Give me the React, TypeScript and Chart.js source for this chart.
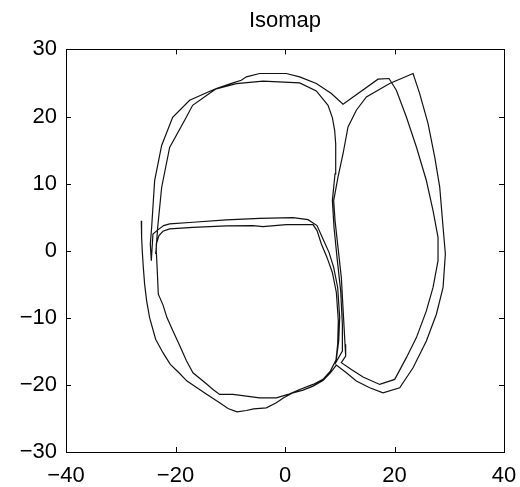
import { useEffect, useRef } from "react";
import { Chart, registerables } from "chart.js";

Chart.register(...registerables);

const TITLE = "Isomap";
const X_TICKS = [-40, -20, 0, 20, 40];
const Y_TICKS = [-30, -20, -10, 0, 10, 20, 30];

// Embedded trajectory, in visiting order.
const pathX = [
  // left start, outer sweep and outer bottom
  -26.25, -26.19, -26.07, -25.88, -25.64, -25.27, -24.73, -23.63, -22.29, -20.95,
  -19.37, -17.9, -16.08, -14.25, -11.94, -10.41, -8.77, -7.06, -5.72, -3.41,
  -1.58, -0.24, 1.46, 3.29, 5.12, 6.94, 8.28, 9.38,
  // outer right loop
  11.21, 13.03, 15.47, 17.9, 20.95, 23.39, 25.82, 27.65, 28.87, 29.29,
  28.87, 28.26, 27.35, 26.13, 24.6, 23.39,
  // back down the middle
  19.12, 14.86, 13.03, 11.51, 10.6, 9.68, 8.89, 9.14, 9.68, 10.29,
  10.66, 10.96, 11.08, 10.29,
  // inner right loop
  12.12, 14.25, 17.3, 20.04, 22.17, 24.0, 25.82, 27.04, 27.95, 27.95,
  27.04, 25.82, 24.0, 22.17, 20.34, 19.0, 16.99, 10.6,
  // outer top arc of the left loop
  8.47, 5.72, 2.68, 0.24, -4.63, -7.06, -7.98, -9.5, -12.55, -14.13,
  -17.42, -20.52, -22.53, -23.81, -24.36, -24.6, -24.42,
  // upper crossing, right side, inner bottom, lower left side
  -24.12, -23.39, -22.17, -21.07, -16.81, -10.72, -4.63, 1.46, 4.2, 5.85,
  6.94, 8.04, 8.89, 9.62, 9.99, 9.81, 9.38, 8.28, 6.94, 5.12,
  2.68, 0.55, -1.58, -4.63, -7.06, -9.5, -11.94, -13.15, -14.37, -16.81,
  -17.98, -19.2, -20.46, -21.56, -22.29, -23.14, -23.33, -23.51, -23.51,
  // lower crossing, right side again
  -23.02, -22.29, -21.07, -16.81, -10.72, -5.85, -4.02, 0.24, 5.12, 5.85,
  6.64, 7.67, 8.65, 9.38, 9.74, 9.62, 9.26,
  // up the middle and around the inner top arc
  10.48, 10.48, 10.17, 9.5, 8.95, 8.65, 9.14, 9.26, 9.07, 8.65,
  7.86, 5.72, 2.68, -4.02, -8.89, -12.55, -13.76, -16.87, -18.33, -21.07,
  -22.53, -23.26, -23.51, -23.63,
];

const pathY = [
  4.48, 1.99, 0.0, -2.49, -4.98, -7.47, -9.97, -13.2, -15.2, -16.94,
  -18.19, -19.43, -20.43, -21.42, -22.67, -23.52, -24.02, -23.82, -23.57, -23.42,
  -22.67, -21.92, -21.18, -20.78, -20.18, -19.33, -18.19, -17.04,
  -18.19, -19.43, -20.43, -21.18, -20.43, -17.44, -13.45, -9.47, -5.48, -0.5,
  3.49, 9.47, 13.95, 18.93, 23.42, 26.41,
  24.91, 22.92, 20.93, 18.44, 14.45, 10.96, 7.47, 4.48, 0.5, -3.99,
  -9.47, -13.95, -15.69, -16.69,
  -17.69, -18.83, -19.93, -19.18, -15.94, -12.95, -8.97, -5.48, -1.49, 1.99,
  5.98, 10.46, 15.45, 19.93, 23.92, 25.66, 25.56, 21.82,
  23.42, 24.91, 25.91, 26.41, 26.41, 25.91, 25.41, 25.01, 24.17, 23.62,
  22.42, 19.88, 15.69, 10.46, 3.44, 1.0, -1.49,
  2.49, 2.99, 3.74, 3.99, 4.24, 4.58, 4.83, 4.93, 4.63, 3.74,
  1.74, -0.25, -2.49, -5.48, -9.97, -13.45, -16.19, -17.94, -19.18, -19.93,
  -20.68, -21.42, -21.92, -21.92, -21.67, -21.42, -21.42, -20.68, -19.83, -18.19,
  -16.44, -14.2, -11.96, -9.97, -8.07, -6.48, -2.99, 0.0, 1.0,
  2.24, 2.89, 3.24, 3.49, 3.69, 3.74, 3.59, 3.89, 3.89, 2.99,
  1.0, -1.0, -3.24, -6.23, -10.46, -13.95, -16.69,
  -14.95, -10.96, -5.98, -1.0, 3.49, 7.47, 11.46, 15.94, 17.94, 19.83,
  21.67, 23.82, 25.01, 25.26, 24.91, 24.12, 23.47, 21.67, 19.43, 15.4,
  9.42, 3.44, 0.5, -0.5,
];

const FONT_FAMILY = "'Liberation Sans', Arial, Helvetica, sans-serif";

const formatTick = (v: number | string) => String(v).replace("-", "\u2212");

// Draws the closed axes box with inward tick marks on all four sides.
const boxWithInwardTicks = {
  id: "boxWithInwardTicks",
  afterDatasetsDraw(chart: any) {
    const { ctx, chartArea: a, scales } = chart;
    const len = 5;
    ctx.save();
    ctx.strokeStyle = "#000";
    ctx.lineWidth = 1;
    ctx.strokeRect(
      Math.round(a.left) + 0.5,
      Math.round(a.top) + 0.5,
      Math.round(a.right - a.left),
      Math.round(a.bottom - a.top)
    );
    ctx.beginPath();
    for (const v of X_TICKS) {
      const px = Math.round(scales.x.getPixelForValue(v)) + 0.5;
      ctx.moveTo(px, a.bottom);
      ctx.lineTo(px, a.bottom - len);
      ctx.moveTo(px, a.top);
      ctx.lineTo(px, a.top + len);
    }
    for (const v of Y_TICKS) {
      const py = Math.round(scales.y.getPixelForValue(v)) + 0.5;
      ctx.moveTo(a.left, py);
      ctx.lineTo(a.left + len, py);
      ctx.moveTo(a.right, py);
      ctx.lineTo(a.right - len, py);
    }
    ctx.stroke();
    ctx.restore();
  },
};

export default function App() {
  const canvasRef = useRef<HTMLCanvasElement | null>(null);

  useEffect(() => {
    const canvas = canvasRef.current;
    if (!canvas) return;
    const points = pathX.map((x, i) => ({ x, y: pathY[i] }));
    const chart = new Chart(canvas, {
      type: "scatter",
      data: {
        datasets: [
          {
            data: points,
            showLine: true,
            borderColor: "#111",
            borderWidth: 1.2,
            pointRadius: 0,
            tension: 0,
            fill: false,
          },
        ],
      },
      options: {
        responsive: false,
        animation: false,
        devicePixelRatio: 1,
        layout: { padding: { left: 0, right: 16, top: 0, bottom: 0 } },
        plugins: {
          legend: { display: false },
          tooltip: { enabled: false },
          title: {
            display: true,
            text: TITLE,
            fullSize: false,
            color: "#000",
            font: { family: FONT_FAMILY, size: 22, weight: "normal" },
            padding: { top: 8, bottom: 15 },
          },
        },
        scales: {
          x: {
            type: "linear",
            min: X_TICKS[0],
            max: X_TICKS[X_TICKS.length - 1],
            grid: { display: false, drawTicks: false },
            border: { display: false },
            afterBuildTicks: (scale: any) => {
              scale.ticks = X_TICKS.map((value) => ({ value }));
            },
            afterFit: (scale: any) => {
              scale.height = 35;
              scale.paddingLeft = 0;
              scale.paddingRight = 0;
            },
            ticks: {
              color: "#000",
              padding: 11,
              maxRotation: 0,
              font: { family: FONT_FAMILY, size: 22 },
              callback: formatTick,
            },
          },
          y: {
            type: "linear",
            min: Y_TICKS[0],
            max: Y_TICKS[Y_TICKS.length - 1],
            grid: { display: false, drawTicks: false },
            border: { display: false },
            afterBuildTicks: (scale: any) => {
              scale.ticks = Y_TICKS.map((value) => ({ value }));
            },
            afterFit: (scale: any) => {
              scale.width = 66;
              scale.paddingTop = 0;
              scale.paddingBottom = 0;
            },
            ticks: {
              color: "#000",
              padding: 9,
              font: { family: FONT_FAMILY, size: 22 },
              callback: formatTick,
            },
          },
        },
      },
      plugins: [boxWithInwardTicks],
    });
    return () => chart.destroy();
  }, []);

  return (
    <div style={{ position: "fixed", left: 0, top: 0, width: 520, height: 487, background: "#fff" }}>
      <canvas ref={canvasRef} width={520} height={487} style={{ width: 520, height: 487, display: "block" }} />
    </div>
  );
}
